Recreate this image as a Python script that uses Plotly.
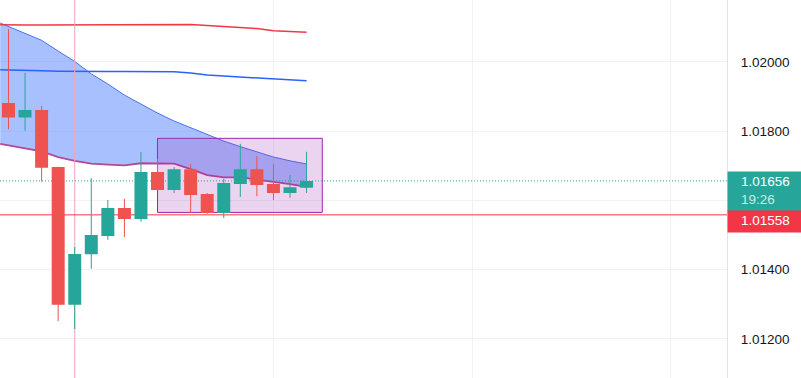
import plotly.graph_objects as go

# ---- data ----
idx = list(range(19))
open_ = [1.01881, 1.01839, 1.01861, 1.01696, 1.01298, 1.01444, 1.01497, 1.01578, 1.01546, 1.01682,
         1.01630, 1.01690, 1.01618, 1.01563, 1.01647, 1.01690, 1.01647, 1.01621, 1.01636]
high = [1.02095, 1.01968, 1.01873, 1.01697, 1.01465, 1.01664, 1.01601, 1.01604, 1.01740, 1.01719,
        1.01696, 1.01705, 1.01621, 1.01662, 1.01763, 1.01728, 1.01705, 1.01673, 1.01740]
low = [1.01805, 1.01801, 1.01654, 1.01251, 1.01228, 1.01402, 1.01486, 1.01494, 1.01538, 1.01629,
       1.01621, 1.01563, 1.01561, 1.01549, 1.01610, 1.01612, 1.01601, 1.01607, 1.01621]
close = [1.01839, 1.01861, 1.01694, 1.01298, 1.01445, 1.01500, 1.01578, 1.01546, 1.01682, 1.01630,
         1.01690, 1.01615, 1.01563, 1.01650, 1.01690, 1.01644, 1.01621, 1.01638, 1.01656]

line_x = [-0.5] + idx
cloud_upper = [1.02112, 1.02102, 1.02083, 1.02062, 1.02031, 1.02001, 1.01965, 1.01936, 1.01904, 1.01878,
               1.01852, 1.01829, 1.01809, 1.01789, 1.01771, 1.01755, 1.01741, 1.01725, 1.01714, 1.01705]
cloud_lower = [1.01763, 1.01758, 1.01750, 1.01741, 1.01725, 1.01714, 1.01706, 1.01703, 1.01701, 1.01707,
               1.01707, 1.01706, 1.01690, 1.01673, 1.01666, 1.01666, 1.01660, 1.01654, 1.01647, 1.01639]
red_band = [1.02107, 1.02106, 1.02106, 1.02106, 1.02106, 1.02106, 1.02107, 1.02107, 1.02108, 1.02108,
            1.02108, 1.02108, 1.02108, 1.02105, 1.02102, 1.02099, 1.02096, 1.02090, 1.02087, 1.02085]
blue_band = [1.01977, 1.01976, 1.01975, 1.01974, 1.01973, 1.01972, 1.01972, 1.01972, 1.01972, 1.01972,
             1.01972, 1.01971, 1.01968, 1.01962, 1.01959, 1.01956, 1.01953, 1.01950, 1.01947, 1.01945]

rect_x = [9, 18.95]
rect_y = [1.01565, 1.01779]

last_price = 1.01656
level_price = 1.01558
cursor_x = 4
countdown = "19:26"

y_ticks = [1.012, 1.014, 1.016, 1.018, 1.020]
y_ticktext = ["1.01200", "1.01400", "", "1.01800", "1.02000"]
x_grid = [4, 16, 28, 40]

x_range = [-0.513, 43.39]
y_range = [1.010868, 1.021785]

GREEN = "#26a69a"
RED = "#ef5350"
BODY_W = 0.785

fig = go.Figure()

# cloud
fig.add_trace(go.Scatter(x=line_x, y=cloud_lower, mode="lines",
                         line=dict(color="#b5479a", width=1.8), hoverinfo="skip"))
fig.add_trace(go.Scatter(x=line_x, y=cloud_upper, mode="lines", fill="tonexty",
                         fillcolor="rgba(41,98,255,0.4)",
                         line=dict(color="#4a72f0", width=1), hoverinfo="skip"))
# bands
fig.add_trace(go.Scatter(x=line_x, y=red_band, mode="lines",
                         line=dict(color="#f23645", width=1.5), hoverinfo="skip"))
fig.add_trace(go.Scatter(x=line_x, y=blue_band, mode="lines",
                         line=dict(color="#2962ff", width=1.5), hoverinfo="skip"))
# cursor line
fig.add_trace(go.Scatter(x=[cursor_x, cursor_x], y=y_range, mode="lines",
                         line=dict(color="#f5a3c5", width=1), hoverinfo="skip"))
# rectangle
fig.add_trace(go.Scatter(x=[rect_x[0], rect_x[1], rect_x[1], rect_x[0], rect_x[0]],
                         y=[rect_y[0], rect_y[0], rect_y[1], rect_y[1], rect_y[0]],
                         mode="lines", fill="toself", fillcolor="rgba(156,39,176,0.2)",
                         line=dict(color="#9c27b0", width=1), hoverinfo="skip"))
# price lines
fig.add_trace(go.Scatter(x=x_range, y=[last_price, last_price], mode="lines",
                         line=dict(color=GREEN, width=1, dash="1px,2px"), hoverinfo="skip"))
fig.add_trace(go.Scatter(x=x_range, y=[level_price, level_price], mode="lines",
                         line=dict(color="#f23645", width=1), hoverinfo="skip"))

# candles: wicks then bodies
for col, up in ((GREEN, True), (RED, False)):
    wx, wy, bx, by = [], [], [], []
    for i, o, h, l, c in zip(idx, open_, high, low, close):
        if (c >= o) == up:
            wx += [i, i, None]
            wy += [l, h, None]
            x0, x1 = i - BODY_W / 2, i + BODY_W / 2
            bx += [x0, x1, x1, x0, x0, None]
            by += [o, o, c, c, o, None]
    fig.add_trace(go.Scatter(x=wx, y=wy, mode="lines", line=dict(color=col, width=1),
                             hoverinfo="skip"))
    fig.add_trace(go.Scatter(x=bx, y=by, mode="lines", fill="toself", fillcolor=col,
                             line=dict(color=col, width=0), hoverinfo="skip"))

dom_right = 727 / 801
fig.update_layout(
    width=801, height=378,
    margin=dict(l=0, r=0, t=0, b=0),
    paper_bgcolor="white", plot_bgcolor="white",
    showlegend=False,
    font=dict(family="Liberation Sans, Arial, sans-serif", size=13, color="#131722"),
    xaxis=dict(domain=[0, dom_right], range=x_range, tickvals=x_grid, showticklabels=False,
               showgrid=True, gridcolor="#f0f3f5", gridwidth=1, zeroline=False, fixedrange=True),
    yaxis=dict(side="right", range=y_range, tickvals=y_ticks, ticktext=y_ticktext,
               showgrid=True, gridcolor="#f0f3f5", gridwidth=1, zeroline=False,
               showline=True, linecolor="#e0e3eb", linewidth=1,
               ticks="outside", ticklen=10, tickcolor="rgba(0,0,0,0)",
               tickfont=dict(size=13.5, color="#131722")),
)

# price label boxes
def py(px):
    return 1 - px / 378

fig.add_annotation(xref="paper", yref="paper", x=dom_right, y=py(171), xanchor="left", yanchor="top",
                   text=" ", width=74, height=39, bgcolor=GREEN, borderpad=0, showarrow=False)
fig.add_annotation(xref="paper", yref="paper", x=dom_right, y=py(210), xanchor="left", yanchor="top",
                   text=" ", width=74, height=21, bgcolor="#f23645", borderpad=0, showarrow=False)
fig.add_annotation(xref="paper", yref="paper", x=740 / 801, y=py(182), xanchor="left", yanchor="middle",
                   text=f"{last_price:.5f}", font=dict(color="white", size=13.5), showarrow=False, borderpad=0)
fig.add_annotation(xref="paper", yref="paper", x=740 / 801, y=py(199), xanchor="left", yanchor="middle",
                   text=countdown, font=dict(color="#c9ece8", size=13.5), showarrow=False, borderpad=0)
fig.add_annotation(xref="paper", yref="paper", x=740 / 801, y=py(220.5), xanchor="left", yanchor="middle",
                   text=f"{level_price:.5f}", font=dict(color="white", size=13.5), showarrow=False, borderpad=0)

fig.write_html("out.html", config={"displayModeBar": False},
               post_script="document.body.style.margin='0';document.body.style.overflow='hidden';")
